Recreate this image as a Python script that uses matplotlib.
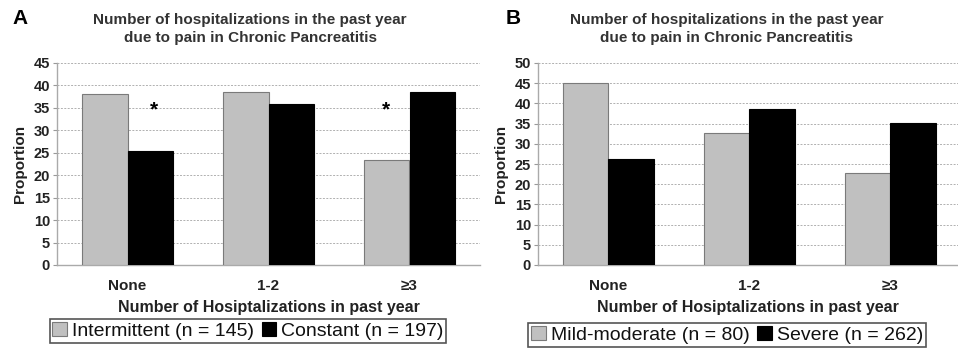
import matplotlib.pyplot as plt
import numpy as np

plt.rcParams["font.family"] = ["Liberation Sans", "DejaVu Sans"]

categories = ["None", "1-2", "≥3"]

# Panel A: pain pattern
a_intermittent = [38.0, 38.6, 23.5]
a_constant = [25.5, 35.9, 38.6]
a_labels = ["Intermittent (n = 145)", "Constant (n = 197)"]
a_star_x = [0.19, 1.83]
a_star_y = [34.6, 34.6]

# Panel B: pain severity
b_mild = [45.0, 32.6, 22.7]
b_severe = [26.2, 38.6, 35.1]
b_labels = ["Mild-moderate (n = 80)", "Severe (n = 262)"]

title = "Number of hospitalizations in the past year\ndue to pain in Chronic Pancreatitis"
xlabel = "Number of Hosiptalizations in past year"

W, H = 958, 350
fig = plt.figure(figsize=(W / 100, H / 100), dpi=100)
fig.patch.set_facecolor("white")

gray = "#c0c0c0"
bw = 0.325


def px(l, b, r, t):
    return [l / W, 1 - b / H, (r - l) / W, (b - t) / H]


def panel(rect, s1, s2, labels, ymax, xmax, leg_x, leg_y):
    ax = fig.add_axes(rect)
    x = np.arange(len(categories))
    ax.bar(x - bw / 2, s1, bw, color=gray, edgecolor="#7a7a7a", linewidth=0.8,
           label=labels[0], zorder=3)
    ax.bar(x + bw / 2, s2, bw, color="black", edgecolor="black", linewidth=0.8,
           label=labels[1], zorder=3)
    ax.set_xlim(-0.5, xmax)
    ax.set_ylim(0, ymax)
    ax.set_yticks(np.arange(0, ymax + 1, 5))
    ax.set_xticks(x)
    ax.set_xticklabels(categories, fontsize=11, fontweight="bold", color="#222")
    ax.tick_params(axis="x", length=0, pad=10)
    ax.tick_params(axis="y", labelsize=10.5, length=3, color="#999", pad=2,
                   labelcolor="#222")
    for lab in ax.get_yticklabels():
        lab.set_fontweight("bold")
    ax.yaxis.grid(True, linestyle=(0, (2, 1.5)), color="#b0b0b0", linewidth=0.7, zorder=0)
    for s in ("top", "right"):
        ax.spines[s].set_visible(False)
    for s in ("left", "bottom"):
        ax.spines[s].set_color("#aaaaaa")
        ax.spines[s].set_linewidth(1.0)
    ax.set_xlabel(xlabel, fontsize=11.5, fontweight="bold", color="#222", labelpad=5)
    ax.set_ylabel("Proportion", fontsize=11, fontweight="bold", color="#222", labelpad=5)
    leg = ax.legend(loc="center", bbox_to_anchor=(leg_x / W, 1 - leg_y / H),
                    bbox_transform=fig.transFigure,
                    ncol=2, fontsize=14, frameon=True, fancybox=False,
                    edgecolor="#555555", handlelength=0.75, handleheight=0.75,
                    handletextpad=0.25, columnspacing=0.4, borderpad=0.15,
                    borderaxespad=0, framealpha=1)
    leg.get_frame().set_linewidth(1.2)
    for t in leg.get_texts():
        t.set_color("#111")
    return ax


axA = panel(px(57, 265, 480, 63), a_intermittent, a_constant, a_labels, 45, 2.5, 248, 331)
for sx, sy in zip(a_star_x, a_star_y):
    axA.text(sx, sy, "*", ha="center", va="center", fontsize=15, fontweight="bold", zorder=4)

axB = panel(px(538, 265, 958, 63), b_mild, b_severe, b_labels, 50, 2.48, 727, 335)

fig.text(250 / W, 1 - 29 / H, title, ha="center", va="center", fontsize=11,
         fontweight="bold", color="#333", linespacing=1.3)
fig.text(727 / W, 1 - 29 / H, title, ha="center", va="center", fontsize=11,
         fontweight="bold", color="#333", linespacing=1.3)
fig.text(12 / W, 1 - 18 / H, "A", ha="left", va="center", fontsize=15, fontweight="bold")
fig.text(506 / W, 1 - 18 / H, "B", ha="left", va="center", fontsize=15, fontweight="bold")

fig.savefig("out.png", dpi=100, facecolor="white")
